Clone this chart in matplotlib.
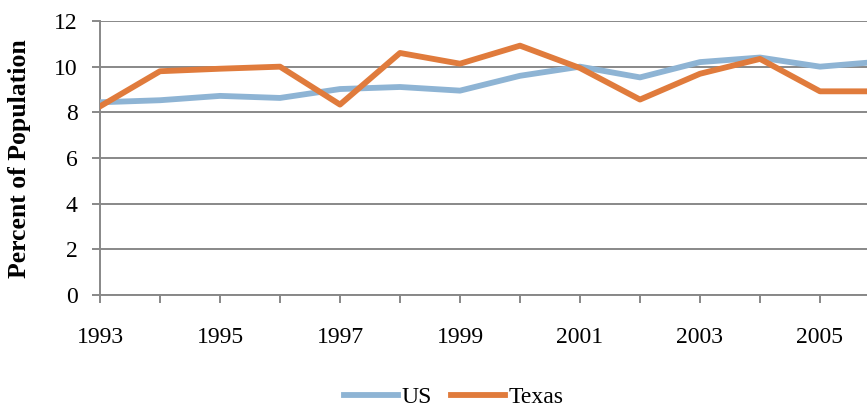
import matplotlib
matplotlib.use("Agg")
import matplotlib.pyplot as plt

plt.rcParams['font.family'] = ['Liberation Serif', 'DejaVu Serif']

## data
years = [1993, 1994, 1995, 1996, 1997, 1998, 1999, 2000,
         2001, 2002, 2003, 2004, 2005, 2006]
us = [8.44, 8.53, 8.72, 8.63, 9.02, 9.11, 8.95, 9.6,
      10.0, 9.53, 10.2, 10.4, 10.0, 10.22]
texas = [8.26, 9.8, 9.91, 10.0, 8.34, 10.6, 10.13, 10.92,
         9.94, 8.56, 9.69, 10.34, 8.92, 8.92]
year_labels = ['1993', '1995', '1997', '1999', '2001', '2003', '2005']
y_ticks = [0, 2, 4, 6, 8, 10, 12]

US_COLOR = '#8EB4D4'
TX_COLOR = '#E07B3C'
GRID_COLOR = '#888888'
FS = 17

fig = plt.figure(figsize=(8.67, 4.07), dpi=100)
# plot area runs past the right edge, the original is cut off there
ax = fig.add_axes([100 / 867, 1 - 295 / 407, 780 / 867, 274 / 407])

ax.plot(years, us, color=US_COLOR, lw=4.2, label='US', zorder=3)
ax.plot(years, texas, color=TX_COLOR, lw=4.2, label='Texas', zorder=4)

ax.set_xlim(1993, 2006)
ax.set_ylim(0, 12)
ax.set_yticks(y_ticks)
ax.set_xticks(years)
ax.set_xticklabels([str(y) if str(y) in year_labels else '' for y in years])

ax.grid(axis='y', color=GRID_COLOR, lw=1.4, zorder=0)
ax.set_axisbelow(True)
for side in ['top', 'right']:
    ax.spines[side].set_visible(False)
for side in ['left', 'bottom']:
    ax.spines[side].set_color(GRID_COLOR)
    ax.spines[side].set_linewidth(1.4)

ax.tick_params(axis='both', colors=GRID_COLOR, labelcolor='black', labelsize=FS,
               width=1.4, length=6)
ax.tick_params(axis='x', pad=17)
ax.tick_params(axis='y', pad=10)

fig.text(20 / 867, 1 - 159 / 407, 'Percent of Population', rotation=90,
         fontsize=18.5, fontweight='bold', ha='center', va='center')

fig.legend(loc='center', bbox_to_anchor=(454 / 867, 1 - 397 / 407), ncol=2,
           frameon=False, fontsize=FS, handlelength=2.3, handletextpad=0.15,
           columnspacing=0.8, borderaxespad=0)

plt.savefig('out.png', dpi=100)
